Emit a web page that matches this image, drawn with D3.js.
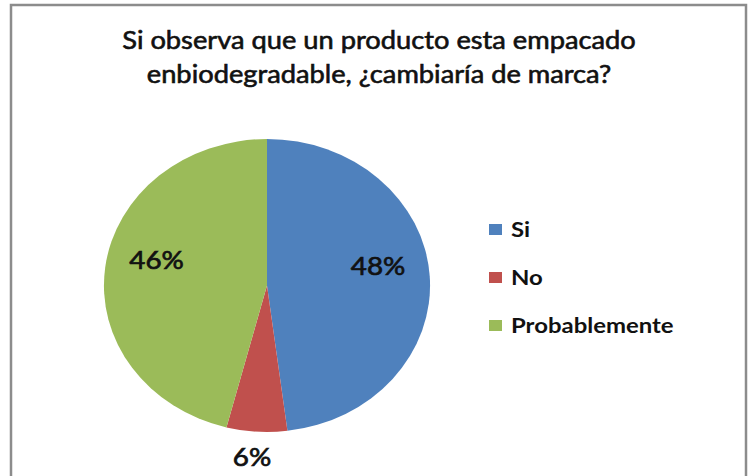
<!DOCTYPE html>
<html>
<head>
<meta charset="utf-8">
<script src="https://cdn.jsdelivr.net/npm/d3@7"></script>
<style>
  html, body { margin: 0; padding: 0; background: #fff; }
  svg { display: block; }
</style>
</head>
<body>
<svg id="chart"></svg>
<script>
let categories = ["Si", "No", "Probablemente"];
let values = [48, 6, 46];
let labels = ["48%", "6%", "46%"];
let colors = ["#4f81bd", "#c0504d", "#9bbb59"];
let titleLines = [
  "Si observa que un producto esta empacado",
  "enbiodegradable, ¿cambiaría de marca?"
];

let width = 751;
let height = 476;

// the source picture is stretched a bit horizontally
let sx = 1.113;

let cx = 267;
let cy = 285.5;
let radius = 146.5;

let font = "Lato, 'Open Sans', sans-serif";

let svg = d3.select("#chart").attr("width", width).attr("height", height);

let drawFrame = () => {
  svg.append("rect")
    .attr("width", width).attr("height", height)
    .attr("fill", "#fff");

  svg.append("rect")
    .attr("x", 11).attr("y", 5)
    .attr("width", 735).attr("height", height + 10)
    .attr("fill", "none")
    .attr("stroke", "#8c8c8c")
    .attr("stroke-width", 2.5);
};

let drawTitle = () => {
  svg.append("g")
    .selectAll("text")
    .data(titleLines)
    .enter()
    .append("text")
    .attr("transform", (d, i) => "translate(379," + (49 + i * 34) + ") scale(" + sx + ",1)")
    .attr("text-anchor", "middle")
    .style("font-family", font)
    .style("font-size", "24.5px")
    .style("font-weight", "normal")
    .attr("fill", "#111")
    .attr("stroke", "#111")
    .attr("stroke-width", 0.6)
    .text((d) => d);
};

let drawPie = () => {
  let pie = d3.pie().sort(null).value((d) => d);
  let arcs = pie(values);

  let arc = d3.arc().innerRadius(0).outerRadius(radius);
  let insideArc = d3.arc().innerRadius(100).outerRadius(100);
  let outsideArc = d3.arc().innerRadius(171).outerRadius(171);

  let g = svg.append("g")
    .attr("transform", "translate(" + cx + "," + cy + ") scale(" + sx + ",1)");

  g.selectAll("path")
    .data(arcs)
    .enter()
    .append("path")
    .attr("d", arc)
    .attr("fill", (d, i) => colors[i]);

  // labels: small slices get the label outside
  svg.append("g")
    .selectAll("text")
    .data(arcs)
    .enter()
    .append("text")
    .attr("transform", (d) => {
      let outside = d.data < 10;
      let c = outside ? outsideArc.centroid(d) : insideArc.centroid(d);
      let x = cx + c[0] * sx - (outside ? 3 : 0);
      let y = cy + c[1] + (outside ? 10 : -4);
      return "translate(" + x + "," + y + ") scale(" + sx + ",1)";
    })
    .attr("text-anchor", "middle")
    .style("font-family", font)
    .style("font-size", "25px")
    .attr("fill", "#111")
    .attr("stroke", "#111")
    .attr("stroke-width", 0.7)
    .text((d, i) => labels[i]);
};

let drawLegend = () => {
  let legend = svg.append("g")
    .selectAll("g")
    .data(categories)
    .enter()
    .append("g")
    .attr("transform", (d, i) => "translate(489," + (237 + i * 48) + ")");

  legend.append("rect")
    .attr("x", 0)
    .attr("y", -13)
    .attr("width", 13)
    .attr("height", 11)
    .attr("fill", (d, i) => colors[i]);

  legend.append("text")
    .attr("transform", "translate(22,0) scale(" + sx + ",1)")
    .style("font-family", font)
    .style("font-size", "21.5px")
    .style("font-weight", "bold")
    .attr("fill", "#111")
    .text((d) => d);
};

drawFrame();
drawTitle();
drawPie();
drawLegend();
</script>
</body>
</html>
